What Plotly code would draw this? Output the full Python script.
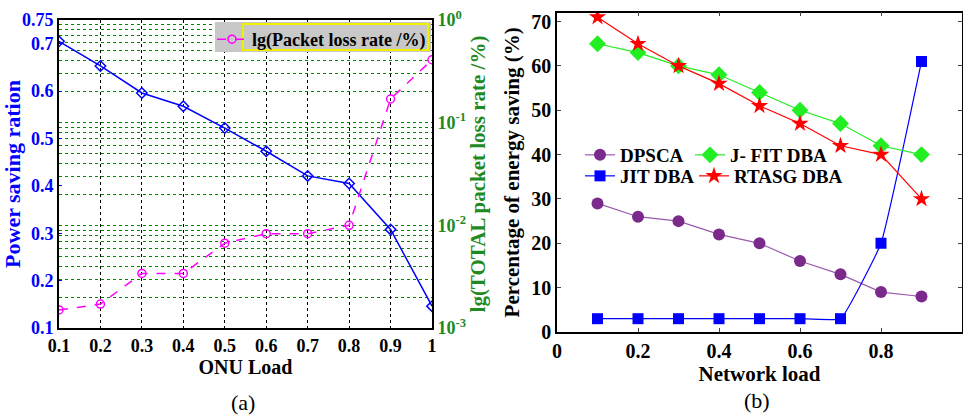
import plotly.graph_objects as go

# ---------------- data ----------------
onu_load = [0.1, 0.2, 0.3, 0.4, 0.5, 0.6, 0.7, 0.8, 0.9, 1.0]
power_saving = [0.705, 0.653, 0.596, 0.568, 0.522, 0.473, 0.421, 0.405, 0.308, 0.146]
packet_loss = [0.0015, 0.00171, 0.0034, 0.0034, 0.0067, 0.0083, 0.0083, 0.0100, 0.17, 0.41]

left_yticks = [0.1, 0.2, 0.3, 0.4, 0.5, 0.6, 0.7, 0.75]
left_xticks = [0.1, 0.2, 0.3, 0.4, 0.5, 0.6, 0.7, 0.8, 0.9, 1.0]
left_xticklabels = ["0.1", "0.2", "0.3", "0.4", "0.5", "0.6", "0.7", "0.8", "0.9", "1"]
log_tickvals = [0.001, 0.01, 0.1, 1]
log_ticktext = ["10<sup>-3</sup>", "10<sup>-2</sup>", "10<sup>-1</sup>", "10<sup>0</sup>"]

network_load = [0.1, 0.2, 0.3, 0.4, 0.5, 0.6, 0.7, 0.8, 0.9]
dpsca = [29, 26, 25, 22, 20, 16, 13, 9, 8]
jit_dba = [3, 3, 3, 3, 3, 3, 3, 20, 61]
jfit_dba = [65, 63, 60, 58, 54, 50, 47, 42, 40]
rtasg_dba = [71, 65, 60, 56, 51, 47, 42, 40, 30]

right_xticks = [0, 0.2, 0.4, 0.6, 0.8]
right_xticklabels = ["0", "0.2", "0.4", "0.6", "0.8"]
right_yticks = [0, 10, 20, 30, 40, 50, 60, 70]

# ---------------- style ----------------
W, H = 963, 416
FAM = "Liberation Serif, Times New Roman, serif"
GREEN = "#1f8a1f"
BLUE = "#0000ff"

def px_x(p):
    return p / W

def px_y(p):
    return 1 - p / H

def bfont(size, color="black"):
    return dict(family=FAM, size=size, color=color, weight="bold")

fig = go.Figure()

# left panel
fig.add_trace(go.Scatter(
    x=onu_load, y=power_saving, mode="lines+markers", name="Power saving",
    line=dict(color=BLUE, width=1.5),
    marker=dict(symbol="diamond-open", size=8, color=BLUE, line=dict(width=1.5)),
    xaxis="x", yaxis="y", showlegend=False))
fig.add_trace(go.Scatter(
    x=onu_load, y=packet_loss, mode="lines+markers", name="lg(Packet loss rate /%)",
    line=dict(color="#ff00ff", width=1.5, dash="dash"),
    marker=dict(symbol="circle-open", size=8, color="#ff00ff", line=dict(width=1.5)),
    xaxis="x", yaxis="y2", legend="legend5"))

# right panel
fig.add_trace(go.Scatter(
    x=network_load, y=dpsca, mode="lines+markers", name="DPSCA",
    line=dict(color="#9a5aae", width=1.2),
    marker=dict(symbol="circle", size=12, color="#7b2a8c"),
    xaxis="x3", yaxis="y3", legend="legend"))
fig.add_trace(go.Scatter(
    x=network_load, y=jit_dba, mode="lines+markers", name="JIT DBA",
    line=dict(color=BLUE, width=1.2, shape="spline", smoothing=0.3),
    marker=dict(symbol="square", size=11, color=BLUE),
    xaxis="x3", yaxis="y3", legend="legend3"))
fig.add_trace(go.Scatter(
    x=network_load, y=jfit_dba, mode="lines+markers", name="J- FIT DBA",
    line=dict(color="#22ee22", width=1.2),
    marker=dict(symbol="diamond", size=13, color="#22ee22"),
    xaxis="x3", yaxis="y3", legend="legend2"))
fig.add_trace(go.Scatter(
    x=network_load, y=rtasg_dba, mode="lines+markers", name="RTASG DBA",
    line=dict(color="#ff0000", width=1.2),
    marker=dict(symbol="star", size=13, color="#ff0000"),
    xaxis="x3", yaxis="y3", legend="legend4"))

def leg(xp, yp, size):
    return dict(x=px_x(xp), y=px_y(yp), xanchor="left", yanchor="top",
                bgcolor="rgba(0,0,0,0)", font=bfont(size), itemwidth=30)

fig.update_layout(
    width=W, height=H,
    margin=dict(l=0, r=0, t=0, b=0, autoexpand=False),
    paper_bgcolor="white", plot_bgcolor="white",
    font=dict(family=FAM, color="black"),
    xaxis=dict(
        domain=[px_x(59), px_x(432)], range=[0.1, 1.0], anchor="y", automargin=False,
        tickvals=left_xticks, ticktext=left_xticklabels, tickfont=bfont(18),
        showgrid=True, gridcolor="black", griddash="dot", gridwidth=1,
        showline=True, linecolor="black", linewidth=2, mirror=True,
        ticks="", zeroline=False,
        title=dict(text="ONU Load", font=bfont(20), standoff=4),
    ),
    yaxis=dict(
        domain=[px_y(328), px_y(20)], range=[0.1, 0.75], anchor="x", automargin=False,
        tickvals=left_yticks, tickfont=bfont(18, BLUE),
        showgrid=False, zeroline=False,
        showline=True, linecolor="black", linewidth=2,
        ticks="inside", ticklen=3, tickcolor=BLUE,
        title=dict(text="Power saving ration", font=bfont(22, BLUE), standoff=6),
    ),
    yaxis2=dict(
        overlaying="y", side="right", anchor="x", type="log", range=[-3, 0], automargin=False,
        tickvals=log_tickvals, ticktext=log_ticktext, tickfont=bfont(18, GREEN),
        showgrid=True, gridcolor="#008800", griddash="dot", gridwidth=1,
        minor=dict(dtick="D1", showgrid=True, gridcolor="#008800", griddash="dot", gridwidth=1, ticks=""),
        showline=True, linecolor="black", linewidth=2, zeroline=False, ticks="",
        title=dict(text="lg(TOTAL packet loss rate /%)", font=bfont(21, GREEN), standoff=0),
    ),
    xaxis3=dict(
        domain=[px_x(557), px_x(962)], range=[0, 1.0], anchor="y3", automargin=False,
        tickvals=right_xticks, ticktext=right_xticklabels, tickfont=bfont(20),
        showgrid=False, zeroline=False,
        showline=True, linecolor="black", linewidth=1.5, mirror="ticks",
        ticks="inside", ticklen=4,
        title=dict(text="Network load", font=bfont(21), standoff=2),
    ),
    yaxis3=dict(
        domain=[px_y(332), px_y(12.7)], range=[0, 72], anchor="x3", automargin=False,
        tickvals=right_yticks, tickfont=bfont(20),
        showgrid=False, zeroline=False,
        showline=True, linecolor="black", linewidth=1.5, mirror="ticks",
        ticks="inside", ticklen=4,
        title=dict(text="Percentage of energy saving (%)", font=bfont(21), standoff=6),
    ),
    legend=leg(580, 136, 19),
    legend2=leg(690, 136, 19),
    legend3=leg(580, 157, 19),
    legend4=leg(694, 157, 19),
    legend5=leg(212, 21, 18),
    shapes=[
        dict(type="rect", xref="paper", yref="paper",
             x0=px_x(215), x1=px_x(431), y0=px_y(52), y1=px_y(22),
             fillcolor="#c8c8c8", line=dict(width=0), layer="above"),
        dict(type="rect", xref="paper", yref="paper",
             x0=px_x(243), x1=px_x(428), y0=px_y(50), y1=px_y(24),
             fillcolor="rgba(0,0,0,0)", line=dict(color="#f0f000", width=2), layer="above"),
    ],
    annotations=[
        dict(text="(a)", x=px_x(243), y=px_y(402), xref="paper", yref="paper",
             yanchor="middle", xanchor="center",
             showarrow=False, font=dict(family=FAM, size=22, color="black")),
        dict(text="(b)", x=px_x(757), y=px_y(400), xref="paper", yref="paper",
             yanchor="middle", xanchor="center",
             showarrow=False, font=dict(family=FAM, size=22, color="black")),
    ],
)

fig.write_html(
    "out.html",
    config={"displayModeBar": False},
    post_script="document.body.style.margin='0px';document.body.style.overflow='hidden';",
)
